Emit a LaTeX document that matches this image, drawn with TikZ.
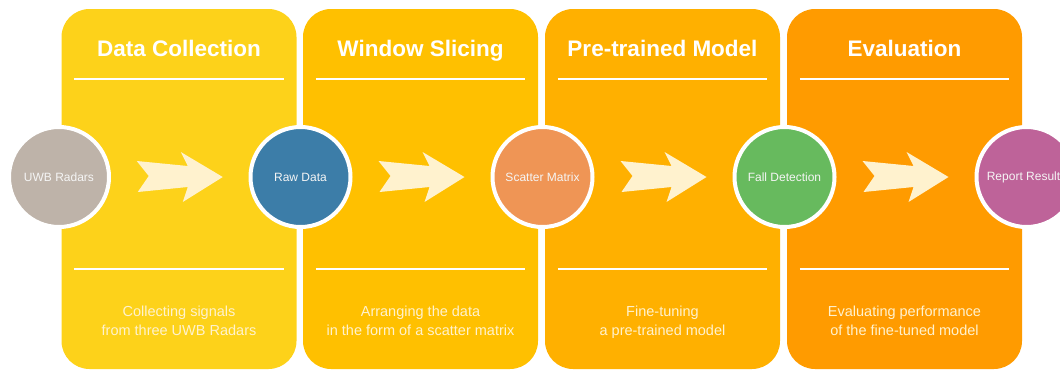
\documentclass[tikz,border=0pt]{standalone}
\usepackage{fontspec}
\setmainfont{Liberation Sans}
\usetikzlibrary{calc}

\definecolor{stageone}{RGB}{253,210,26}
\definecolor{stagetwo}{RGB}{255,192,0}
\definecolor{stagethree}{RGB}{255,176,0}
\definecolor{stagefour}{RGB}{255,155,0}
\definecolor{creamy}{RGB}{255,242,206}
\definecolor{radargrey}{RGB}{190,179,169}
\definecolor{rawblue}{RGB}{60,125,168}
\definecolor{scatterorange}{RGB}{239,149,85}
\definecolor{fallgreen}{RGB}{103,186,94}
\definecolor{reportpurple}{RGB}{190,99,153}

% fat cream arrow halfway between two circles
\newcommand{\fatarrow}[2]{%
  \fill[creamy,shift={($(#1)!0.5!(#2)$)}] (-43,-16) -- (-31,-1) -- (-42,15) -- (8,10)
    -- (3,25) -- (43,0) -- (1,-25) -- (8,-11) -- cycle;}

\begin{document}
\begin{tikzpicture}[x=1pt,y=-1pt,
    panel/.style={minimum width=235pt,minimum height=360pt,inner sep=0pt,rounded corners=28pt},
    title/.style={text=white,font=\bfseries\fontsize{22.5}{27}\selectfont},
    body/.style={text=creamy,align=center,font=\fontsize{14.5}{19}\selectfont},
    sep/.style={white,line width=2pt},
    stage/.style={circle,draw=white,line width=4pt,minimum size=100pt,inner sep=0pt,
      text=white!96!black,font=\fontsize{12}{14}\selectfont}]
    \useasboundingbox (0,0) rectangle (1060,370);
    \clip (0,0) rectangle (1060,370);

    % the four panels
    \node[panel,fill=stageone] (dcpanel) at (179,189) {};
    \node[panel,fill=stagetwo] (wspanel) at (420.5,189) {};
    \node[panel,fill=stagethree] (ptpanel) at (662.5,189) {};
    \node[panel,fill=stagefour] (evpanel) at (904.5,189) {};

    \node[title] (dctitle) at (179,50.6) {\strut Data Collection};
    \node[title] (wstitle) at (420.5,50.6) {\strut Window Slicing};
    \node[title] (pttitle) at (662.5,50.6) {\strut Pre-trained Model};
    \node[title] (evtitle) at (904.5,50.6) {\strut Evaluation};

    \draw[sep] ($(dcpanel.north west)+(13,70)$) -- ($(dcpanel.north east)+(-13,70)$);
    \draw[sep] ($(wspanel.north west)+(13,70)$) -- ($(wspanel.north east)+(-13,70)$);
    \draw[sep] ($(ptpanel.north west)+(13,70)$) -- ($(ptpanel.north east)+(-13,70)$);
    \draw[sep] ($(evpanel.north west)+(13,70)$) -- ($(evpanel.north east)+(-13,70)$);
    \draw[sep] ($(dcpanel.north west)+(13,260)$) -- ($(dcpanel.north east)+(-13,260)$);
    \draw[sep] ($(wspanel.north west)+(13,260)$) -- ($(wspanel.north east)+(-13,260)$);
    \draw[sep] ($(ptpanel.north west)+(13,260)$) -- ($(ptpanel.north east)+(-13,260)$);
    \draw[sep] ($(evpanel.north west)+(13,260)$) -- ($(evpanel.north east)+(-13,260)$);

    \node[body] (dcbody) at (179,322) {\strut Collecting signals\\\strut from three UWB Radars};
    \node[body] (wsbody) at (420.5,322) {\strut Arranging the data\\\strut in the form of a scatter matrix};
    \node[body] (ptbody) at (662.5,322) {\strut Fine-tuning\\\strut a pre-trained model};
    \node[body] (evbody) at (904.5,322) {\strut Evaluating performance\\\strut of the fine-tuned model};

    % circles on the gaps
    \node[stage,fill=radargrey] (uwb) at (59,177) {UWB Radars};
    \node[stage,fill=rawblue] (raw) at (300.5,177) {Raw Data};
    \node[stage,fill=scatterorange] (scatter) at (542.5,177) {Scatter Matrix};
    \node[stage,fill=fallgreen] (fall) at (784.5,177) {Fall Detection};
    \node[stage,fill=reportpurple] (report) at (1026.5,177) {Report Results};

    \fatarrow{uwb}{raw}
    \fatarrow{raw}{scatter}
    \fatarrow{scatter}{fall}
    \fatarrow{fall}{report}
\end{tikzpicture}
\end{document}
